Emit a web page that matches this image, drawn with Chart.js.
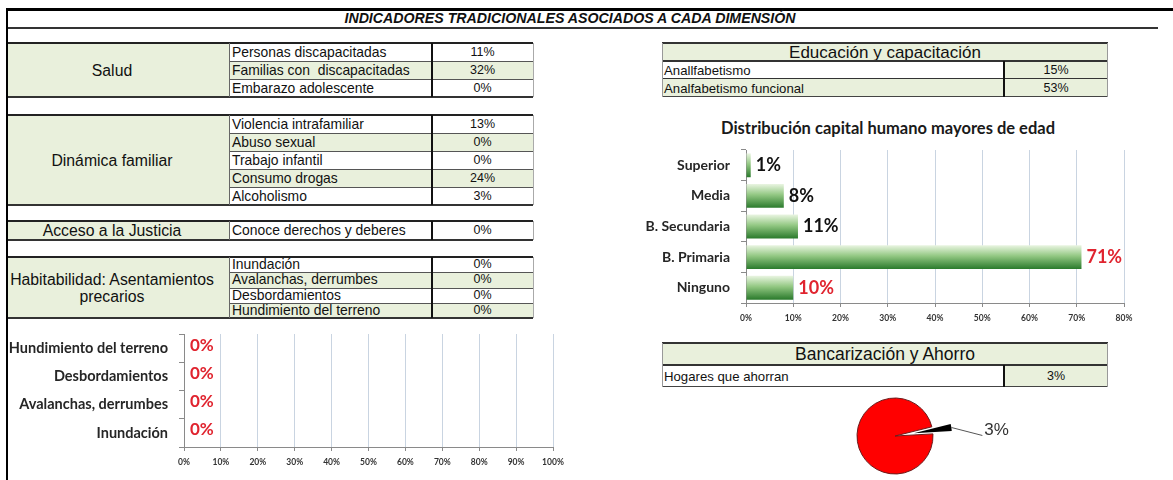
<!DOCTYPE html>
<html>
<head>
<meta charset="utf-8">
<script src="https://cdn.jsdelivr.net/npm/chart.js@4.4.1/dist/chart.umd.min.js"></script>
<style>
  body { margin: 0; background: #fff; }
  #page { position: relative; width: 1173px; height: 480px; overflow: hidden; background: #fff;
          font-family: "Liberation Sans", Arial, sans-serif; color: #111; }
  .abs { position: absolute; box-sizing: border-box; }
  .cell { position: absolute; box-sizing: border-box; display: flex; align-items: center;
          white-space: pre; overflow: hidden; }
  canvas { position: absolute; }
  #capitalTitle { position: absolute; left: 688px; top: 118px; width: 400px; text-align: center;
                  font: bold 16.5px Lato; color: #1a1a1a; line-height: 20px; }
</style>
</head>
<body>
<div id="page">
  <canvas id="riesgoChart" width="580" height="150" style="left:0;top:330px"></canvas>
  <div id="capitalTitle">Distribución capital humano mayores de edad</div>
  <canvas id="capitalChart" width="550" height="215" style="left:600px;top:110px"></canvas>
  <canvas id="ahorroChart" width="280" height="80" style="left:755px;top:396px"></canvas>
</div>
<script>
// ---- tables ----
const saludItems = ['Personas discapacitadas', 'Familias con  discapacitadas', 'Embarazo adolescente'];
const saludPct = [11, 32, 0];
const familiaItems = ['Violencia intrafamiliar', 'Abuso sexual', 'Trabajo infantil', 'Consumo drogas', 'Alcoholismo'];
const familiaPct = [13, 0, 0, 24, 3];
const justiciaItems = ['Conoce derechos y deberes'];
const justiciaPct = [0];
const habitabilidadItems = ['Inundación', 'Avalanchas, derrumbes', 'Desbordamientos', 'Hundimiento del terreno'];
const habitabilidadPct = [0, 0, 0, 0];
const educacionItems = ['Anallfabetismo', 'Analfabetismo funcional'];
const educacionPct = [15, 53];
const ahorroItems = ['Hogares que ahorran'];
const ahorroPct = [3];

// ---- charts ----
const riesgoLabels = ['Hundimiento del terreno', 'Desbordamientos', 'Avalanchas, derrumbes', 'Inundación'];
const riesgoValues = [0, 0, 0, 0];
const riesgoAxisMax = 100;

const nivelLabels = ['Superior', 'Media', 'B. Secundaria', 'B. Primaria', 'Ninguno'];
const nivelValues = [1, 8, 11, 71, 10];
const nivelAxisMax = 80;

const ahorroPieLabels = ['Ahorran', 'No ahorran'];
const ahorroPieValues = [3, 97];

const GREEN = '#e9f0dc';
const page = document.getElementById('page');

function box(x, y, w, h, bg) {
  const d = document.createElement('div');
  d.className = 'abs';
  d.style.cssText = `left:${x}px;top:${y}px;width:${w}px;height:${h}px;background:${bg}`;
  page.appendChild(d);
  return d;
}

function cell(x, y, w, h, bg, text, align, size) {
  const d = document.createElement('div');
  d.className = 'cell';
  d.style.cssText = `left:${x}px;top:${y}px;width:${w}px;height:${h}px;background:${bg};` +
    `justify-content:${align};font-size:${size}px;padding-left:${align === 'flex-start' ? 2 : 0}px;` +
    `text-align:center;line-height:17px`;
  d.textContent = text;
  page.appendChild(d);
  return d;
}

// left tables: label | item | value
function sideTable(top, rowH, label, items, pct, shaded) {
  const h = rowH * items.length;
  const lab = cell(8, top, 222, h, GREEN, label, 'center', 15.8);
  lab.style.paddingRight = '14px';
  items.forEach((name, i) => {
    const bg = shaded.includes(i) ? GREEN : '#fff';
    const y = top + i * rowH;
    cell(230, y, 202, rowH, bg, name, 'flex-start', 13.9);
    cell(432, y, 101, rowH, bg, pct[i] + '%', 'center', 12.5);
    if (i > 0) box(230, y, 303, 1, '#555');
  });
  box(8, top - 1, 525, 2, '#222');
  box(8, top + h - 1, 525, 2, '#333');
  box(229, top, 1, h, '#666');
  box(431, top, 2, h, '#111');
  box(533, top, 1, h, '#aaa');
}

// right tables: header, then item | value
function wideTable(top, headH, rowH, title, items, pct, shadedNames, headSize) {
  cell(662, top, 446, headH, GREEN, title, 'center', headSize);
  items.forEach((name, i) => {
    const y = top + headH + i * rowH;
    cell(662, y, 342, rowH, shadedNames.includes(i) ? GREEN : '#fff', name, 'flex-start', 13.2);
    cell(1004, y, 104, rowH, GREEN, pct[i] + '%', 'center', 12.5);
    box(662, y - 1, 446, i === 0 ? 2 : 1, '#333');
  });
  const h = headH + rowH * items.length;
  box(662, top - 1, 446, 2, '#333');
  box(662, top + h - 1, 446, 1, '#444');
  box(662, top, 1, h, '#999');
  box(1107, top, 1, h, '#999');
  box(1003, top + headH, 2, rowH * items.length, '#111');
}

// frame and title
box(6, 8, 1167, 2.5, '#000');
box(6, 8, 2, 472, '#000');
box(8, 27, 1150, 2, '#333');
const title = cell(8, 9, 1124, 18, 'transparent', 'INDICADORES TRADICIONALES ASOCIADOS A CADA DIMENSIÓN', 'center', 14.2);
title.style.fontWeight = 'bold';
title.style.fontStyle = 'italic';
title.style.overflow = 'visible';

sideTable(43, 18, 'Salud', saludItems, saludPct, [1]);
sideTable(115, 18, 'Dinámica familiar', familiaItems, familiaPct, [1, 3]);
sideTable(221, 19, 'Acceso a la Justicia', justiciaItems, justiciaPct, []);
sideTable(257, 15.25, 'Habitabilidad: Asentamientos\nprecarios', habitabilidadItems, habitabilidadPct, [1, 3]);

wideTable(43, 18, 18, 'Educación y capacitación', educacionItems, educacionPct, [1], 17);
wideTable(343, 22, 22, 'Bancarización y Ahorro', ahorroItems, ahorroPct, [], 17.5);

// ---- chart helpers ----
const valueLabels = {
  id: 'valueLabels',
  afterDatasetsDraw(chart, args, opts) {
    const { ctx } = chart;
    const meta = chart.getDatasetMeta(0);
    const values = chart.data.datasets[0].data;
    ctx.save();
    ctx.font = opts.font;
    ctx.textBaseline = 'middle';
    ctx.textAlign = 'left';
    meta.data.forEach((bar, i) => {
      ctx.fillStyle = opts.colors[i];
      ctx.fillText(values[i] + '%', bar.x + opts.gap, bar.y + opts.dy);
    });
    ctx.restore();
  }
};

function pctAxis(max, size) {
  return {
    x: {
      min: 0, max: max,
      ticks: { stepSize: 10, callback: v => v + '%', color: '#333', padding: 6,
               font: { family: 'Lato', size: 8.5, weight: 'bold' }, maxRotation: 0 },
      grid: { color: '#c9d4e1', tickColor: '#8a8a8a', tickLength: 4 },
      border: { color: '#8a8a8a' },
      afterFit: s => { s.height = size.xh; }
    },
    y: {
      ticks: { color: '#262626', padding: size.pad, font: { family: 'Lato', size: size.font, weight: 'bold' } },
      grid: { drawOnChartArea: false, tickColor: '#8a8a8a', tickLength: 5 },
      border: { color: '#8a8a8a' },
      afterFit: s => { s.width = size.yw; s.paddingTop = 0; s.paddingBottom = 0; }
    }
  };
}

// bottom-left chart
new Chart(document.getElementById('riesgoChart'), {
  type: 'bar',
  data: { labels: riesgoLabels, datasets: [{ data: riesgoValues, backgroundColor: '#4f9a45',
          barPercentage: 0.75, categoryPercentage: 1 }] },
  plugins: [valueLabels],
  options: {
    indexAxis: 'y', responsive: false, animation: false, devicePixelRatio: 1,
    layout: { padding: { top: 4, right: 27, left: 0, bottom: 0 } },
    scales: pctAxis(riesgoAxisMax, { xh: 33, yw: 184, pad: 11, font: 14.5 }),
    plugins: {
      legend: { display: false }, tooltip: { enabled: false },
      valueLabels: { font: 'bold 17px Lato', colors: ['#e0242f', '#e0242f', '#e0242f', '#e0242f'], gap: 6, dy: -3 }
    }
  }
});

// right bar chart with green gradient bars
function greenGradient(context) {
  const chart = context.chart;
  const y = chart.scales.y;
  if (!y) return '#4f9a45';
  const band = Math.abs(y.getPixelForValue(1) - y.getPixelForValue(0));
  const c = y.getPixelForValue(context.dataIndex);
  if (!isFinite(band) || !isFinite(c)) return '#4f9a45';
  const h = band * 0.78;
  const g = chart.ctx.createLinearGradient(0, c - h / 2, 0, c + h / 2);
  g.addColorStop(0, '#eaf5e2');
  g.addColorStop(0.45, '#93c883');
  g.addColorStop(1, '#2a7a2c');
  return g;
}

new Chart(document.getElementById('capitalChart'), {
  type: 'bar',
  data: { labels: nivelLabels, datasets: [{ data: nivelValues, backgroundColor: greenGradient,
          barPercentage: 0.78, categoryPercentage: 1 }] },
  plugins: [valueLabels],
  options: {
    indexAxis: 'y', responsive: false, animation: false, devicePixelRatio: 1,
    layout: { padding: { top: 40, right: 26, left: 0, bottom: 0 } },
    scales: pctAxis(nivelAxisMax, { xh: 22, yw: 146, pad: 11, font: 14 }),
    plugins: {
      legend: { display: false }, tooltip: { enabled: false },
      valueLabels: { font: 'bold 18px Lato', colors: ['#111', '#111', '#111', '#e0242f', '#e0242f'], gap: 5, dy: 0 }
    }
  }
});

// pie: the small slice is pulled out and drawn shifted, with a callout
const pieExplode = {
  id: 'pieExplode',
  afterDatasetsDraw(chart, args, opts) {
    const { ctx } = chart;
    const arc = chart.getDatasetMeta(0).data[0];
    const mid = (arc.startAngle + arc.endAngle) / 2;
    const dx = Math.cos(mid) * opts.explode, dy = Math.sin(mid) * opts.explode;
    ctx.save();
    ctx.translate(dx, dy);
    ctx.beginPath();
    ctx.moveTo(arc.x, arc.y);
    ctx.arc(arc.x, arc.y, arc.outerRadius, arc.startAngle, arc.endAngle);
    ctx.closePath();
    ctx.fillStyle = '#000';
    ctx.fill();
    ctx.restore();

    const x0 = arc.x + dx + Math.cos(mid) * arc.outerRadius;
    const y0 = arc.y + dy + Math.sin(mid) * arc.outerRadius;
    const x1 = x0 + 31, y1 = y0 + 8;
    ctx.save();
    ctx.strokeStyle = '#555';
    ctx.lineWidth = 1;
    ctx.beginPath();
    ctx.moveTo(x0, y0);
    ctx.lineTo(x1, y1);
    ctx.stroke();
    ctx.fillStyle = '#333';
    ctx.font = '17px "Liberation Sans", Arial';
    ctx.textBaseline = 'middle';
    ctx.fillText(chart.data.datasets[0].data[0] + '%', x1 + 2, y1 - 5);
    ctx.restore();
  }
};

new Chart(document.getElementById('ahorroChart'), {
  type: 'pie',
  data: { labels: ahorroPieLabels, datasets: [{ data: ahorroPieValues, radius: 38,
          backgroundColor: ['rgba(0,0,0,0)', '#ff0000'], borderColor: ['rgba(0,0,0,0)', '#6a1b1b'],
          borderWidth: 1 }] },
  plugins: [pieExplode],
  options: {
    responsive: false, animation: false, devicePixelRatio: 1, rotation: 76, radius: 38,
    layout: { padding: 0 },
    plugins: { legend: { display: false }, tooltip: { enabled: false }, pieExplode: { explode: 19 } }
  }
});
</script>
</body>
</html>
